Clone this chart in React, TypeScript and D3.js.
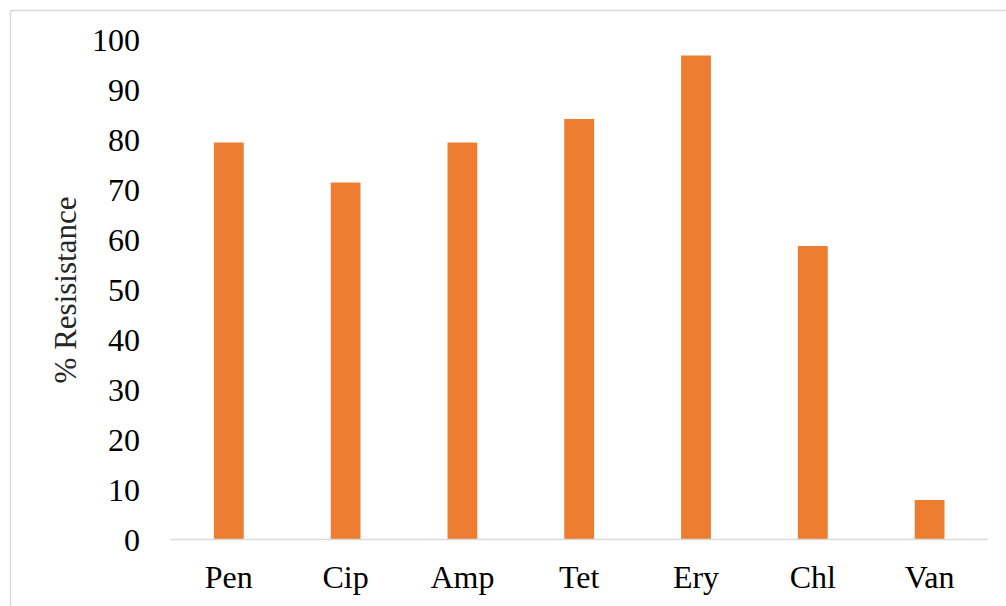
import React from "react";
import * as d3 from "d3";

// Antibiotic resistance (%) per drug
const categories = ["Pen", "Cip", "Amp", "Tet", "Ery", "Chl", "Van"];
const resistance = [79.4, 71.4, 79.4, 84.1, 96.8, 58.7, 7.9];
const yTicks = [0, 10, 20, 30, 40, 50, 60, 70, 80, 90, 100];

const W = 1006;
const H = 606;
const plot = { left: 170.4, right: 988, top: 39.5, bottom: 539.5 };
const font = "'Liberation Serif', 'Times New Roman', serif";

export default function App() {
  const x = d3
    .scaleBand<string>()
    .domain(categories)
    .range([plot.left, plot.right])
    .paddingInner(0.745)
    .paddingOuter(0.3725);
  const y = d3.scaleLinear().domain([0, 100]).range([plot.bottom, plot.top]);

  return (
    <svg
      width={W}
      height={H}
      style={{ position: "absolute", left: 0, top: 0, background: "#fff" }}
    >
      {/* chart frame */}
      <rect x={10.5} y={10.5} width={W + 20} height={H + 20} fill="#fff" stroke="#d9d9d9" strokeWidth={1.5} />

      {/* value axis labels */}
      {yTicks.map((t) => (
        <text
          key={t}
          x={140}
          y={y(t)}
          dy="0.35em"
          textAnchor="end"
          fontFamily={font}
          fontSize={32}
          fill="#000"
        >
          {t}
        </text>
      ))}

      {/* bars */}
      {categories.map((c, i) => (
        <rect
          key={c}
          x={x(c)}
          y={y(resistance[i])}
          width={x.bandwidth()}
          height={y(0) - y(resistance[i])}
          fill="#ED7D31"
        />
      ))}

      {/* category axis */}
      <line x1={plot.left} x2={plot.right} y1={plot.bottom} y2={plot.bottom} stroke="#d9d9d9" strokeWidth={1.5} />
      {categories.map((c) => (
        <text
          key={c}
          x={(x(c) ?? 0) + x.bandwidth() / 2}
          y={588}
          textAnchor="middle"
          fontFamily={font}
          fontSize={32}
          fill="#000"
        >
          {c}
        </text>
      ))}

      {/* axis title */}
      <text
        transform={`translate(76, 290) rotate(-90)`}
        textAnchor="middle"
        fontFamily={font}
        fontSize={31}
        fill="#262626"
      >
        % Resisistance
      </text>
    </svg>
  );
}
